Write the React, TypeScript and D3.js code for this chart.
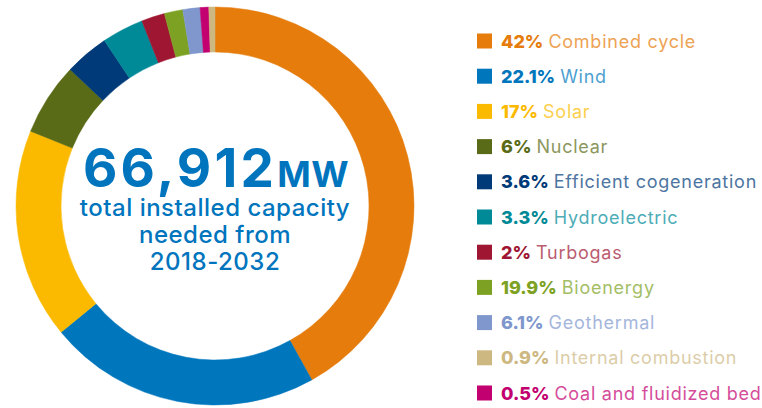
import React, { useEffect, useRef } from 'react';
import * as d3 from 'd3';

// legend order
const categories = [
  'Combined cycle',
  'Wind',
  'Solar',
  'Nuclear',
  'Efficient cogeneration',
  'Hydroelectric',
  'Turbogas',
  'Bioenergy',
  'Geothermal',
  'Internal combustion',
  'Coal and fluidized bed',
];
// labels as printed in the legend
const legendLabels = ['42%', '22.1%', '17%', '6%', '3.6%', '3.3%', '2%', '19.9%', '6.1%', '0.9%', '0.5%'];
const sliceValues = [42, 22.2, 17.1, 5.9, 3.6, 3.4, 1.9, 1.5, 1.4, 0.5, 0.7];
const colors = [
  '#E57C0C', '#0076BD', '#FBBA00', '#5A6B17', '#003A78', '#008996',
  '#9E1632', '#7DA223', '#7F97CD', '#CDB882', '#C2006F',
];
// clockwise order of slices around the ring
const pieOrder = [0, 1, 2, 3, 4, 5, 6, 7, 8, 10, 9];

const FONT = 'Inter, "DejaVu Sans", sans-serif';
const BLUE = '#0075BE';

const App: React.FC = () => {
  const svgRef = useRef<SVGSVGElement>(null);
  const width = 762;
  const height = 408;

  useEffect(() => {
    if (!svgRef.current) return;
    const svg = d3.select(svgRef.current);
    svg.selectAll('*').remove();

    const cx = 215;
    const cy = 206;
    const outerR = 199;
    const innerR = 154;

    const data = pieOrder.map(i => ({ i, value: sliceValues[i] }));
    const pie = d3.pie<{ i: number; value: number }>()
      .sort(null)
      .value(d => d.value)
      .startAngle(0)
      .endAngle(2 * Math.PI);
    const arc = d3.arc<d3.PieArcDatum<{ i: number; value: number }>>()
      .innerRadius(innerR)
      .outerRadius(outerR);

    const g = svg.append('g').attr('transform', `translate(${cx},${cy})`);
    g.selectAll('path')
      .data(pie(data))
      .enter().append('path')
      .attr('d', arc)
      .attr('fill', d => colors[d.data.i])
      .attr('stroke', d => colors[d.data.i])
      .attr('stroke-width', 0.5);

    // centre text
    const big = g.append('text')
      .attr('x', 1)
      .attr('y', -19)
      .attr('text-anchor', 'middle')
      .style('font-family', FONT)
      .style('fill', BLUE)
      .style('font-weight', 700);
    big.append('tspan').style('font-size', '53px').style('letter-spacing', '3.2px').text('66,912');
    big.append('tspan').style('font-size', '36px').style('letter-spacing', '0.5px').text('MW');

    const lines = ['total installed capacity', 'needed from', '2018-2032'];
    g.selectAll('.sub')
      .data(lines)
      .enter().append('text')
      .attr('class', 'sub')
      .attr('x', 0)
      .attr('y', (_d, k) => 10 + k * 27)
      .attr('text-anchor', 'middle')
      .style('font-family', FONT)
      .style('font-size', '24px')
      .style('font-weight', 500)
      .style('letter-spacing', '0.5px')
      .style('fill', BLUE)
      .text(d => d);

    // legend
    const y = d3.scaleLinear().domain([0, categories.length - 1]).range([41, 393]);
    const lg = svg.append('g');
    const items = lg.selectAll('.item')
      .data(categories)
      .enter().append('g')
      .attr('class', 'item')
      .attr('transform', (_d, k) => `translate(477,${y(k)})`);

    items.append('rect')
      .attr('x', 0)
      .attr('y', -7.5)
      .attr('width', 15)
      .attr('height', 15)
      .attr('fill', (_d, k) => colors[k]);

    const t = items.append('text')
      .attr('x', 24)
      .attr('y', 6.5)
      .style('font-family', FONT)
      .style('font-size', '18px');
    t.append('tspan')
      .style('font-weight', 800)
      .style('fill', (_d, k) => colors[k])
      .text((_d, k) => legendLabels[k]);
    t.append('tspan')
      .attr('dx', 5)
      .style('font-weight', 400)
      .style('letter-spacing', '0.75px')
      .style('fill', (_d, k) => d3.interpolateRgb(colors[k], '#ffffff')(0.3))
      .text(d => d);
  }, []);

  return (
    <div>
      <style>{'body{margin:0}'}</style>
      <svg ref={svgRef} width={width} height={height} style={{ display: 'block', background: '#fff' }} />
    </div>
  );
};

export default App;
